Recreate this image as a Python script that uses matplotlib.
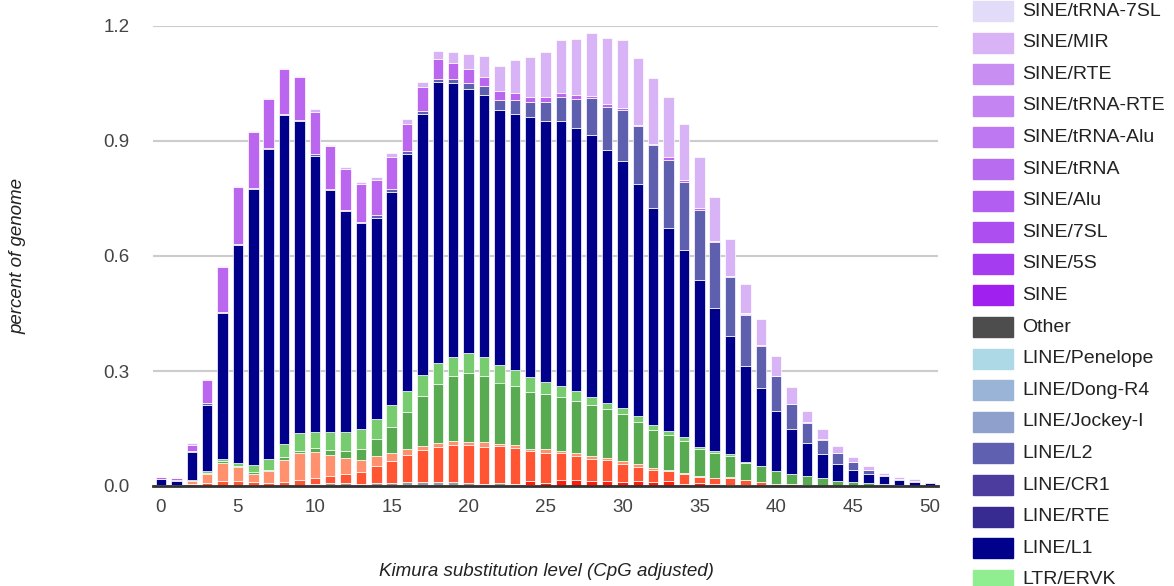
"""
Repeat landscape: stacked bars of genome percent per Kimura divergence bin
"""
import numpy as np
import matplotlib
matplotlib.use("Agg")
import matplotlib.pyplot as plt
from matplotlib.patches import Rectangle

plt.rcParams["font.family"] = ["Liberation Sans", "DejaVu Sans"]

kimura = np.arange(0, 51)

unknown = [0, 0, 0, 0, 0, 0, 0, 0, 0, 0,
           0.006, 0.008, 0.007, 0.006, 0.008, 0.009, 0.010, 0.010, 0.010, 0.010,
           0.009, 0.006, 0.007, 0.004, 0.002, 0, 0, 0, 0, 0,
           0, 0, 0, 0, 0, 0, 0, 0, 0, 0,
           0, 0, 0, 0, 0, 0, 0, 0, 0, 0, 0]
dna_red = [0, 0, 0, 0, 0, 0, 0, 0, 0, 0,
           0, 0, 0, 0, 0, 0, 0, 0, 0, 0,
           0, 0, 0, 0, 0.010, 0.009, 0.016, 0.016, 0.013, 0.013,
           0.011, 0.013, 0.010, 0.013, 0.004, 0.009, 0.004, 0.003, 0.002, 0.001,
           0, 0, 0, 0, 0, 0, 0, 0, 0, 0, 0]
dna_orange = [0.002, 0.001, 0.004, 0.009, 0.013, 0.012, 0.010, 0.009, 0.011, 0.015,
              0.016, 0.018, 0.025, 0.031, 0.043, 0.057, 0.070, 0.083, 0.091, 0.098,
              0.098, 0.097, 0.098, 0.094, 0.079, 0.078, 0.069, 0.063, 0.057, 0.054,
              0.047, 0.037, 0.033, 0.026, 0.028, 0.015, 0.016, 0.019, 0.013, 0.009,
              0.006, 0.004, 0.002, 0.001, 0, 0, 0, 0, 0, 0, 0]
dna_salmon = [0, 0, 0.009, 0.022, 0.048, 0.037, 0.022, 0.029, 0.056, 0.071,
              0.067, 0.054, 0.040, 0.032, 0.028, 0.020, 0.016, 0.011, 0.011, 0.009,
              0.009, 0.013, 0.004, 0.008, 0.006, 0.009, 0.007, 0.007, 0.007, 0.007,
              0.007, 0.007, 0.004, 0.004, 0.003, 0.003, 0.002, 0.002, 0.001, 0,
              0, 0, 0, 0, 0, 0, 0, 0, 0, 0, 0]
ltr_green = [0.001, 0.001, 0.003, 0.003, 0.004, 0.004, 0.004, 0.005, 0.009, 0.006,
             0.010, 0.013, 0.019, 0.028, 0.044, 0.069, 0.098, 0.130, 0.154, 0.170,
             0.178, 0.170, 0.161, 0.155, 0.148, 0.144, 0.141, 0.137, 0.135, 0.126,
             0.122, 0.111, 0.098, 0.091, 0.083, 0.070, 0.063, 0.055, 0.044, 0.041,
             0.033, 0.028, 0.024, 0.020, 0.013, 0.011, 0.009, 0.004, 0.002, 0.001, 0.001]
ltr_light = [0, 0, 0, 0.004, 0.005, 0.006, 0.018, 0.027, 0.033, 0.045,
             0.043, 0.048, 0.050, 0.053, 0.052, 0.057, 0.055, 0.055, 0.055, 0.050,
             0.052, 0.051, 0.045, 0.042, 0.039, 0.032, 0.029, 0.024, 0.019, 0.017,
             0.016, 0.015, 0.013, 0.009, 0.009, 0.006, 0.007, 0.004, 0.003, 0.002,
             0.001, 0, 0, 0, 0, 0, 0, 0, 0, 0, 0]
line_l1 = [0.015, 0.012, 0.073, 0.174, 0.380, 0.570, 0.722, 0.810, 0.860, 0.815,
           0.720, 0.632, 0.577, 0.535, 0.525, 0.555, 0.618, 0.681, 0.732, 0.713,
           0.690, 0.682, 0.665, 0.668, 0.678, 0.680, 0.690, 0.686, 0.684, 0.659,
           0.645, 0.605, 0.568, 0.531, 0.488, 0.435, 0.372, 0.307, 0.249, 0.203,
           0.155, 0.116, 0.085, 0.063, 0.044, 0.032, 0.022, 0.022, 0.013, 0.009, 0.006]
line_l2 = [0.001, 0.001, 0.003, 0.005, 0.004, 0.003, 0.002, 0.003, 0.002, 0.004,
           0.003, 0.003, 0.003, 0.004, 0.007, 0.009, 0.007, 0.009, 0.010, 0.011,
           0.016, 0.024, 0.028, 0.035, 0.040, 0.051, 0.064, 0.077, 0.096, 0.113,
           0.132, 0.150, 0.163, 0.176, 0.179, 0.183, 0.172, 0.155, 0.135, 0.109,
           0.091, 0.065, 0.054, 0.037, 0.028, 0.020, 0.011, 0.004, 0.004, 0.004, 0.004]
sine_trna = [0.004, 0.005, 0.014, 0.060, 0.118, 0.148, 0.145, 0.126, 0.118, 0.111,
             0.111, 0.112, 0.107, 0.099, 0.092, 0.083, 0.071, 0.061, 0.051, 0.043,
             0.035, 0.024, 0.023, 0.019, 0.014, 0.011, 0.009, 0.009, 0.007, 0.007,
             0.006, 0.004, 0.004, 0.007, 0.003, 0.003, 0.003, 0.003, 0.003, 0.002,
             0.002, 0.002, 0.001, 0.001, 0, 0, 0, 0, 0, 0, 0]
sine_mir = [0.001, 0.001, 0.005, 0.002, 0.002, 0.002, 0.002, 0.002, 0.002, 0.002,
            0.007, 0.002, 0.004, 0.004, 0.007, 0.009, 0.013, 0.015, 0.021, 0.029,
            0.041, 0.054, 0.065, 0.085, 0.103, 0.119, 0.138, 0.148, 0.163, 0.172,
            0.177, 0.175, 0.171, 0.159, 0.148, 0.133, 0.114, 0.096, 0.078, 0.068,
            0.052, 0.044, 0.029, 0.026, 0.020, 0.012, 0.009, 0.005, 0.005, 0.003, 0]

series = [
    (unknown, "#999999"),
    (dna_red, "#ff1a0a"),
    (dna_orange, "#ff5533"),
    (dna_salmon, "#ff916e"),
    (ltr_green, "#58ab50"),
    (ltr_light, "#76cc6e"),
    (line_l1, "#00008b"),
    (line_l2, "#5f5fb0"),
    (sine_trna, "#bb66ee"),
    (sine_mir, "#d8b4f6"),
]

legend_names = ["SINE/tRNA-7SL", "SINE/MIR", "SINE/RTE", "SINE/tRNA-RTE", "SINE/tRNA-Alu",
                "SINE/tRNA", "SINE/Alu", "SINE/7SL", "SINE/5S", "SINE", "Other",
                "LINE/Penelope", "LINE/Dong-R4", "LINE/Jockey-I", "LINE/L2", "LINE/CR1",
                "LINE/RTE", "LINE/L1", "LTR/ERVK"]
legend_colors = ["#e2dcf8", "#d8b4f6", "#c88ef2", "#c484f2", "#bd78f2",
                 "#b86cf0", "#b25ef0", "#ac4ef0", "#a63cf0", "#a020f0", "#4d4d4d",
                 "#add8e6", "#9ab4d8", "#8fa0cc", "#6060b0", "#4b3c9e",
                 "#372a90", "#00008b", "#90ee90"]

W, H = 1174, 586
fig = plt.figure(figsize=(W / 100, H / 100), dpi=100)
ax = fig.add_axes([153 / W, (H - 486) / H, (938 - 153) / W, (486 - 26) / H])

bottom = np.zeros(len(kimura))
for vals, col in series:
    vals = np.array(vals)
    ax.bar(kimura, vals, bottom=bottom, width=0.68, color=col,
           edgecolor="white", linewidth=0.5, zorder=3)
    bottom += vals

ax.set_xlim(-0.52, 50.52)
ax.set_ylim(0, 1.2)
ax.set_yticks([0.0, 0.3, 0.6, 0.9, 1.2])
ax.set_yticklabels(["0.0", "0.3", "0.6", "0.9", "1.2"])
ax.set_xticks(range(0, 51, 5))
ax.tick_params(axis="both", length=0, labelsize=13.5, labelcolor="#444444")
ax.tick_params(axis="y", pad=17)
ax.tick_params(axis="x", pad=9)
ax.grid(axis="y", color="#cccccc", linewidth=1.5, zorder=0)
for s in ["top", "right", "left"]:
    ax.spines[s].set_visible(False)
ax.spines["bottom"].set_color("#333333")
ax.spines["bottom"].set_linewidth(2)
ax.spines["bottom"].set_zorder(4)

fig.text(546 / W, 1 - 572 / H, "Kimura substitution level (CpG adjusted)",
         ha="center", va="center", style="italic", fontsize=13.5, color="#222222")
fig.text(18 / W, 1 - 256 / H, "percent of genome", rotation=90,
         ha="center", va="center", style="italic", fontsize=13.5, color="#222222")

# legend on the right, runs past the bottom edge of the figure
for i, (name, col) in enumerate(zip(legend_names, legend_colors)):
    yc = 11 + i * 31.6
    fig.patches.append(Rectangle((973 / W, 1 - (yc + 10) / H), 40 / W, 20 / H,
                                 transform=fig.transFigure, color=col,
                                 edgecolor="none"))
    fig.text(1022 / W, 1 - yc / H, name, ha="left", va="center",
             fontsize=14, color="#222222")

fig.savefig("out.png", dpi=100)
